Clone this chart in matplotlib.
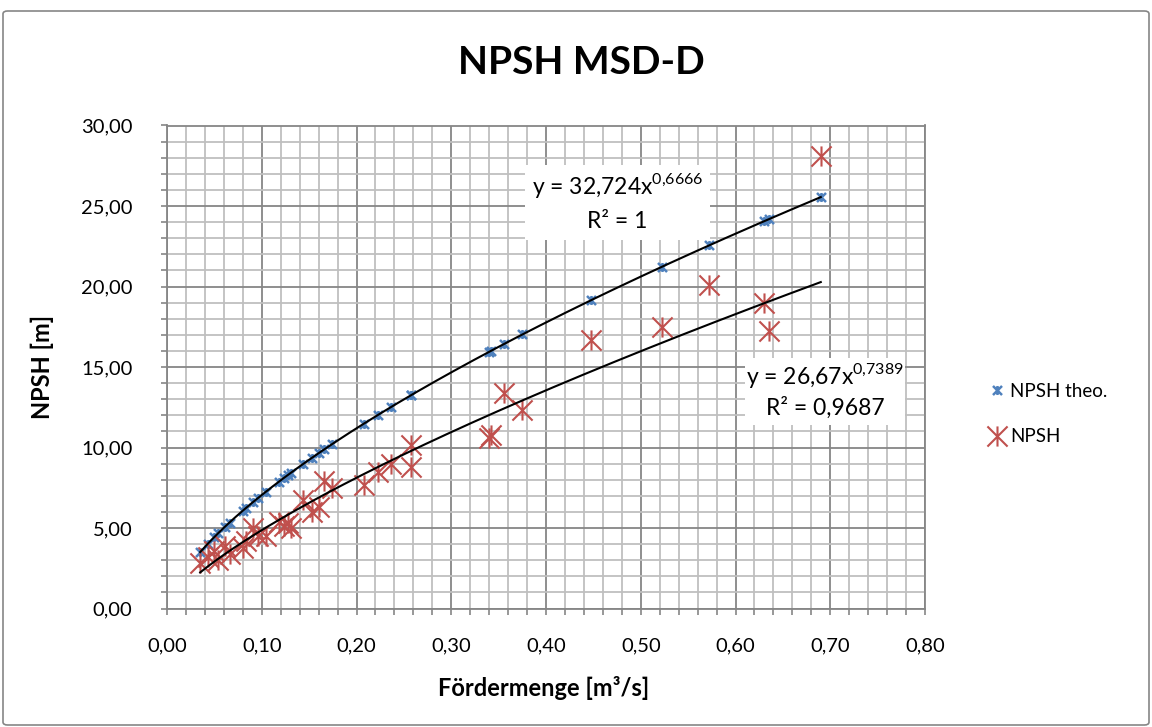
import matplotlib
matplotlib.use('Agg')
import matplotlib.pyplot as plt
import numpy as np
from matplotlib.path import Path
from matplotlib.ticker import MultipleLocator, FuncFormatter
from matplotlib.patches import Rectangle, FancyBboxPatch

plt.rcParams['font.family'] = ['Lato', 'DejaVu Sans']
plt.rcParams['mathtext.fontset'] = 'custom'
plt.rcParams['mathtext.rm'] = 'Lato'

# ---------------- data ----------------
flow = [0.035, 0.043, 0.050, 0.054, 0.061, 0.066, 0.080, 0.083, 0.091, 0.096,
        0.104, 0.118, 0.123, 0.128, 0.131, 0.144, 0.153, 0.160, 0.166, 0.174,
        0.208, 0.223, 0.236, 0.257, 0.258, 0.340, 0.342, 0.356, 0.375, 0.448,
        0.522, 0.572, 0.630, 0.635, 0.690]
npsh_theo = [3.50, 4.02, 4.44, 4.68, 5.07, 5.34, 6.08, 6.23, 6.62, 6.86,
             7.24, 7.87, 8.10, 8.31, 8.44, 8.99, 9.36, 9.64, 9.88, 10.20,
             11.49, 12.04, 12.50, 13.23, 13.26, 15.94, 16.00, 16.44, 17.02, 19.16,
             21.21, 22.55, 24.05, 24.18, 25.55]
npsh_meas = [2.85, 3.20, 3.60, 3.00, 3.90, 3.40, 3.75, 4.20, 5.00, 4.50,
             4.50, 5.40, 5.10, 5.30, 5.00, 6.75, 6.00, 6.30, 7.90, 7.50,
             7.70, 8.45, 9.00, 10.15, 8.80, 10.60, 10.80, 13.40, 12.30, 16.65,
             17.50, 20.10, 19.00, 17.25, 28.10]
fit_theo = (32.724, 0.6666)   # y = a * x^b
fit_meas = (26.67, 0.7389)
series_labels = ['NPSH theo.', 'NPSH']
title = 'NPSH MSD-D'
xlabel = 'Fördermenge [m³/s]'
ylabel = 'NPSH [m]'

W, H = 1152, 727
def fx(px):
    return px / W
def fy(py):
    return 1 - py / H

fig = plt.figure(figsize=(W / 100, H / 100), dpi=100)
fig.patch.set_facecolor('white')

# chart border
fig.patches.append(FancyBboxPatch((fx(3), fy(725)), fx(1149) - fx(3), fy(11) - fy(725),
                                  boxstyle='round,pad=0,rounding_size=0.004',
                                  transform=fig.transFigure, fill=False,
                                  ec='#868686', lw=1.2, zorder=0))

ax = fig.add_axes([fx(167), fy(608.5), fx(925) - fx(167), fy(125.5) - fy(608.5)])
ax.set_xlim(0, 0.8)
ax.set_ylim(0, 30)
ax.xaxis.set_major_locator(MultipleLocator(0.1))
ax.xaxis.set_minor_locator(MultipleLocator(0.02))
ax.yaxis.set_major_locator(MultipleLocator(5))
ax.yaxis.set_minor_locator(MultipleLocator(1))
fmt = FuncFormatter(lambda v, p: f"{v:.2f}".replace('.', ','))
ax.xaxis.set_major_formatter(fmt)
ax.yaxis.set_major_formatter(fmt)
ax.grid(which='minor', color='#BFBFBF', lw=1.3)
ax.grid(which='major', color='#868686', lw=1.3)
ax.set_axisbelow(True)
for s in ax.spines.values():
    s.set_color('#868686')
    s.set_linewidth(1.3)
ax.tick_params(which='both', direction='out', color='#868686', length=4, width=1.2,
               labelsize=14.5)
ax.tick_params(axis='x', which='major', pad=17)
ax.tick_params(axis='y', which='major', pad=21)

star = Path([(-1, -1), (1, 1), (-1, 1), (1, -1), (0, -1), (0, 1)],
            [Path.MOVETO, Path.LINETO, Path.MOVETO, Path.LINETO, Path.MOVETO, Path.LINETO])

h1, = ax.plot(flow, npsh_theo, ls='none', marker=star, ms=6.5, mew=1.8,
              color='#4F81BD', label=series_labels[0], zorder=3)
h2, = ax.plot(flow, npsh_meas, ls='none', marker=star, ms=14.5, mew=1.5,
              color='#C0504D', label=series_labels[1], zorder=3)

xs = np.linspace(min(flow), max(flow), 300)
ax.plot(xs, fit_theo[0] * xs ** fit_theo[1], color='black', lw=1.5, zorder=4)
ax.plot(xs, fit_meas[0] * xs ** fit_meas[1], color='black', lw=1.5, zorder=4)

# equation boxes
def eqbox(x0, y0, x1, y1, line1, line2, ly1, ly2):
    ax.add_patch(Rectangle((fx(x0), fy(y1)), fx(x1) - fx(x0), fy(y0) - fy(y1),
                           transform=fig.transFigure, fc='white', ec='none',
                           zorder=5, clip_on=False))
    cx = (x0 + x1) / 2
    ax.text(fx(cx), fy(ly1), line1, transform=fig.transFigure, ha='center',
            va='center', fontsize=16.5, zorder=6)
    ax.text(fx(cx), fy(ly2), line2, transform=fig.transFigure, ha='center',
            va='center', fontsize=16.5, zorder=6)

def eq_text(a, b):
    a_s = f"{a}".replace('.', ',')
    b_s = f"{b}".replace('.', '{,}')
    return f"y = {a_s}x$^{{\\mathregular{{{b_s}}}}}$"

eqbox(525, 165, 710, 240, eq_text(*fit_theo), 'R² = 1', 186, 221)
eqbox(745, 358, 905, 425, eq_text(*fit_meas), 'R² = 0,9687', 375, 408)

fig.text(fx(581), fy(62), title, fontsize=28, fontweight='bold', ha='center', va='center')
fig.text(fx(544), fy(688), xlabel, fontsize=17, fontweight='bold', ha='center', va='center')
fig.text(fx(42), fy(367), ylabel, fontsize=17, fontweight='bold', ha='center', va='center',
         rotation=90)

fig.legend([h1, h2], series_labels, loc='center left',
           bbox_to_anchor=(fx(978), fy(414)), frameon=False, fontsize=13.5,
           handlelength=1.0, handletextpad=0.2, labelspacing=1.5, borderpad=0)

fig.savefig('out.png', dpi=100)
